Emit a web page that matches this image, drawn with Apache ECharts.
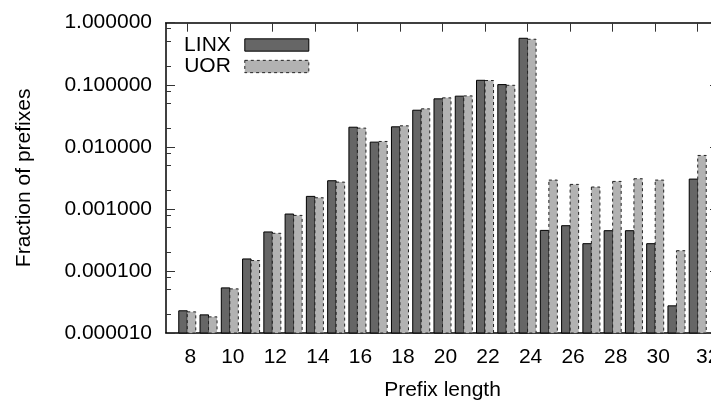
<!DOCTYPE html>
<html><head><meta charset="utf-8">
<script src="https://cdn.jsdelivr.net/npm/echarts@6/dist/echarts.min.js"></script>
<style>html,body{margin:0;padding:0;background:#fff}#c{width:711px;height:401px}</style>
</head><body><div id="c"></div>
<script>
const categories = [8,9,10,11,12,13,14,15,16,17,18,19,20,21,22,23,24,25,26,27,28,29,30,31,32];
const linx = [2.28e-5,1.96e-5,5.33e-5,1.56e-4,4.25e-4,8.26e-4,1.59e-3,2.84e-3,0.0207,0.0119,0.021,0.0389,0.0593,0.0655,0.118,0.1006,0.561,4.5e-4,5.36e-4,2.75e-4,4.45e-4,4.45e-4,2.75e-4,2.74e-5,3.02e-3];
const uor  = [2.19e-5,1.82e-5,5.14e-5,1.47e-4,4.04e-4,7.85e-4,1.51e-3,2.7e-3,0.0200,0.0122,0.0218,0.0409,0.0615,0.0662,0.117,0.098,0.541,2.91e-3,2.48e-3,2.25e-3,2.77e-3,3.06e-3,2.91e-3,2.12e-4,7.26e-3];
const xTicks = [8,10,12,14,16,18,20,22,24,26,28,30,32];
const yMinorTicks = [2e-5,5e-5,8e-5,2e-4,5e-4,8e-4,2e-3,5e-3,8e-3,2e-2,5e-2,8e-2,0.2,0.5,0.8];

const FONT = 'Liberation Sans';
const FS = 21;
const BAR_W = 0.4;
const LINX_FILL = '#666666', UOR_FILL = '#b2b2b2';

const chart = echarts.init(document.getElementById('c'), null, {renderer: 'canvas'});
const axisLine = {show: true, onZero: false, lineStyle: {color: '#000', width: 1.5}};
const txt = {fontSize: FS, color: '#000', fontFamily: FONT};

function barRender(offset, fill, stroke, dash) {
  return function (params, api) {
    const x = api.value(0), v = api.value(1);
    const p0 = api.coord([x + offset, v]);
    const p1 = api.coord([x + offset + BAR_W, 1e-5]);
    return {
      type: 'rect',
      shape: {x: p0[0], y: p0[1], width: p1[0] - p0[0], height: p1[1] - p0[1]},
      style: {fill: fill, stroke: stroke, lineWidth: 1, lineDash: dash}
    };
  };
}

const option = {
  animation: false,
  textStyle: {fontFamily: FONT},
  grid: {left: 166, top: 22.7, width: 553, height: 310.3, containLabel: false, outerBoundsMode: 'none'},
  xAxis: [
    {type: 'value', min: 7, max: 33, position: 'bottom', axisLine: axisLine,
     axisTick: {show: true, inside: true, length: 9, customValues: xTicks, lineStyle: {color: '#333'}},
     axisLabel: Object.assign({customValues: xTicks, margin: 14, padding: [0,0,0,6],
       formatter: function (v) { return v === 32 ? '{e|32}' : String(v); },
       rich: {e: Object.assign({padding: [0,0,0,14]}, txt)}}, txt),
     splitLine: {show: false},
     name: 'Prefix length', nameLocation: 'middle', nameGap: 47,
     nameTextStyle: txt},
    {type: 'value', min: 7, max: 33, position: 'top', axisLine: axisLine,
     axisTick: {show: true, inside: true, length: 9, customValues: xTicks, lineStyle: {color: '#333'}},
     axisLabel: {show: false}, splitLine: {show: false}}
  ],
  yAxis: [
    {type: 'log', logBase: 10, min: 1e-5, max: 1, position: 'left', axisLine: axisLine,
     axisTick: {show: true, inside: true, length: 9, lineStyle: {color: '#333'}},
     axisLabel: Object.assign({margin: 14, padding: [7,0,0,0],
                 formatter: function (v) { return Number(v).toFixed(6); }}, txt),
     splitLine: {show: false}, minorTick: {show: false},
     name: 'Fraction of prefixes', nameLocation: 'middle', nameRotate: 90, nameGap: 131,
     nameTextStyle: txt},
    {type: 'log', logBase: 10, min: 1e-5, max: 1, position: 'right', axisLine: axisLine,
     axisTick: {show: true, inside: true, length: 9, lineStyle: {color: '#333'}},
     axisLabel: {show: false}, splitLine: {show: false}},
    {type: 'value', min: -5, max: 0, position: 'left', axisLine: {show: false},
     axisTick: {show: true, inside: true, length: 5, customValues: yMinorTicks.map(Math.log10), lineStyle: {color: '#333'}},
     axisLabel: {show: false}, splitLine: {show: false}}
  ],
  legend: {
    orient: 'vertical', right: 401.7, top: 34.5, padding: 0,
    itemWidth: 64, itemHeight: 12.3, itemGap: 0.5, align: 'right', icon: 'rect',
    textStyle: Object.assign({padding: [0, 9, 0, 0]}, txt),
    data: [
      {name: 'LINX', itemStyle: {color: LINX_FILL, borderColor: '#000', borderWidth: 1}},
      {name: 'UOR', itemStyle: {color: UOR_FILL, borderColor: '#222', borderWidth: 1, borderType: [3, 3]}}
    ]
  },
  series: [
    {name: 'LINX', type: 'custom', xAxisIndex: 0, yAxisIndex: 0,
     itemStyle: {color: LINX_FILL},
     data: categories.map(function (c, i) { return [c, linx[i]]; }),
     encode: {x: 0, y: 1},
     renderItem: barRender(-BAR_W, LINX_FILL, '#000', null)},
    {name: 'UOR', type: 'custom', xAxisIndex: 0, yAxisIndex: 0,
     itemStyle: {color: UOR_FILL},
     data: categories.map(function (c, i) { return [c, uor[i]]; }),
     encode: {x: 0, y: 1},
     renderItem: barRender(0, UOR_FILL, '#222', [3, 3])}
  ]
};
chart.setOption(option);
</script></body></html>
